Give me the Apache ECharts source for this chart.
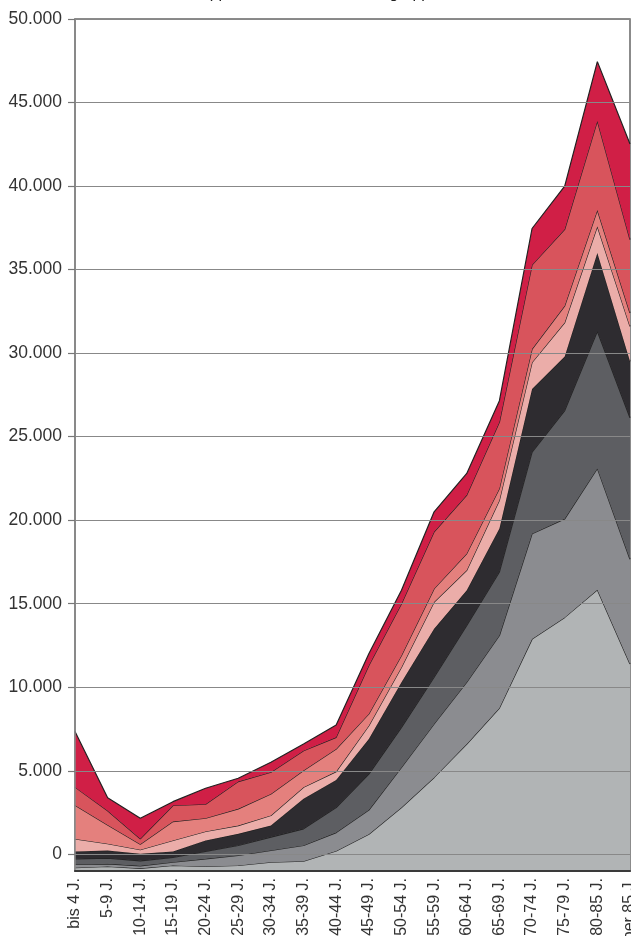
<!DOCTYPE html>
<html>
<head>
<meta charset="utf-8">
<script src="https://cdn.jsdelivr.net/npm/echarts@6/dist/echarts.min.js"></script>
<style>
  html, body { margin: 0; padding: 0; background: #fff; }
  #chart { width: 631px; height: 936px; }
</style>
</head>
<body>
<div id="chart"></div>
<script>
// Age groups along the x axis
const categories = ['bis 4 J.', '5-9 J.', '10-14 J.', '15-19 J.', '20-24 J.', '25-29 J.', '30-34 J.',
  '35-39 J.', '40-44 J.', '45-49 J.', '50-54 J.', '55-59 J.', '60-64 J.', '65-69 J.', '70-74 J.',
  '75-79 J.', '80-85 J.', 'über 85 J.'];

// Layer values, bottom to top (stacked)
const gruppe1 = [-800, -730, -840, -670, -730, -670, -470, -410, 200, 1200, 2800, 4600, 6600, 8750, 12880, 14180, 15830, 11390];
const gruppe2 = [190, 160, 150, 200, 460, 600, 700, 935, 1100, 1450, 2400, 3200, 3700, 4350, 6310, 5900, 7270, 6270];
const gruppe3 = [340, 340, 300, 280, 440, 595, 800, 1000, 1500, 2150, 2400, 2800, 3400, 3800, 4880, 6480, 8210, 8470];
const gruppe4 = [440, 460, 420, 360, 655, 700, 690, 1795, 1650, 2100, 2700, 2900, 2100, 2600, 3780, 3240, 4690, 3380];
const gruppe5 = [750, 400, 240, 655, 540, 495, 600, 695, 500, 800, 900, 1600, 1200, 1700, 1590, 2030, 1590, 2090];
const gruppe6 = [2020, 1130, 330, 1135, 800, 1000, 1295, 995, 1350, 700, 700, 800, 1000, 700, 800, 1000, 970, 800];
const gruppe7 = [1080, 840, 325, 960, 835, 1630, 1295, 1190, 700, 2900, 3100, 3400, 3500, 3970, 5040, 4580, 5340, 4390];
const gruppe8 = [3330, 780, 1235, 230, 955, 205, 600, 405, 740, 700, 800, 1200, 1300, 1280, 2180, 2590, 3550, 5730];

// Tick labels on the value axis
const yTicks = [0, 5000, 10000, 15000, 20000, 25000, 30000, 35000, 40000, 45000, 50000];

const layers = [
  { name: 'Gruppe 1', data: gruppe1, color: '#b1b4b5' },
  { name: 'Gruppe 2', data: gruppe2, color: '#8b8c90' },
  { name: 'Gruppe 3', data: gruppe3, color: '#5d5e62' },
  { name: 'Gruppe 4', data: gruppe4, color: '#2e2c30' },
  { name: 'Gruppe 5', data: gruppe5, color: '#ebada9' },
  { name: 'Gruppe 6', data: gruppe6, color: '#e4807d' },
  { name: 'Gruppe 7', data: gruppe7, color: '#d8545c' },
  { name: 'Gruppe 8', data: gruppe8, color: '#d01f46' }
];

const fontFamily = '"Liberation Sans", Arial, sans-serif';

const chart = echarts.init(document.getElementById('chart'), null, { renderer: 'canvas' });

chart.setOption({
  animation: false,
  backgroundColor: '#fff',
  graphic: [{
    type: 'text',
    left: 'center',
    top: -14,
    style: {
      text: 'Gruppen der ICD nach Altersgruppen',
      font: '16px ' + fontFamily,
      fill: '#222'
    }
  }],
  grid: {
    left: 75, right: 1, top: 19, bottom: 65,
    outerBoundsMode: 'none',
    containLabel: false,
    show: true, borderColor: '#666', borderWidth: 1.5, backgroundColor: 'transparent'
  },
  xAxis: {
    type: 'category',
    data: categories,
    boundaryGap: false,
    axisLine: { show: true, onZero: false, lineStyle: { color: '#3a3a3a', width: 2 } },
    axisTick: { show: false },
    axisLabel: {
      rotate: 90, interval: 0, margin: 7,
      fontFamily: fontFamily, fontSize: 16, color: '#333'
    },
    splitLine: { show: false },
    z: 10
  },
  yAxis: {
    type: 'value',
    min: -1000,
    max: 50000,
    axisLine: { show: true, lineStyle: { color: '#888', width: 1.5 } },
    axisTick: { show: true, length: 7, customValues: yTicks, lineStyle: { color: '#777', width: 1.2 } },
    axisLabel: {
      customValues: yTicks, margin: 13,
      fontFamily: fontFamily, fontSize: 17.5, color: '#333',
      formatter: v => v === 0 ? '0' : (v / 1000).toFixed(0) + '.000'
    },
    splitLine: { show: true, lineStyle: { color: '#888', width: 1.2 } },
    z: 10
  },
  series: layers.map((l, i) => ({
    name: l.name,
    type: 'line',
    stack: 'gesamt',
    stackStrategy: 'all',
    data: l.data,
    symbol: 'none',
    lineStyle: { color: '#222', width: 1.2 },
    areaStyle: Object.assign({ color: l.color, opacity: 1 }, i === 0 ? { origin: 'start' } : {}),
    z: 2 + i * 0.01
  }))
});
</script>
</body>
</html>
